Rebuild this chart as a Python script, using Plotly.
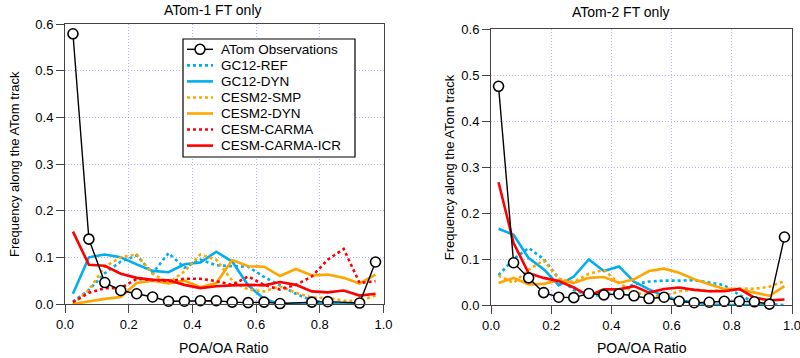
import plotly.graph_objects as go

# ---------------- data ----------------
ratio_bins = [0.025, 0.075, 0.125, 0.175, 0.225, 0.275, 0.325, 0.375, 0.425, 0.475,
              0.525, 0.575, 0.625, 0.675, 0.725, 0.775, 0.825, 0.875, 0.925, 0.975]

# ATom-1 FT only
a1_obs = [0.579, 0.139, 0.046, 0.029, 0.022, 0.015, 0.006, 0.006, 0.007, 0.007,
          0.004, 0.003, 0.004, 0.001, None, 0.004, 0.005, None, 0.002, 0.090]
a1_gc12_ref = [0.005, 0.030, 0.066, 0.091, 0.104, 0.066, 0.109, 0.078, 0.095, 0.083,
               0.081, 0.080, 0.058, 0.040, 0.022, 0.008, 0.002, 0.000, 0.000, None]
a1_gc12_dyn = [0.022, 0.100, 0.106, 0.100, 0.085, 0.071, 0.068, 0.085, 0.089, 0.112,
               0.091, 0.040, 0.011, 0.000, 0.000, 0.000, 0.000, 0.000, 0.000, None]
a1_cesm2_smp = [0.000, 0.030, 0.080, 0.100, 0.106, 0.065, 0.045, 0.070, 0.106, 0.095,
                0.050, 0.031, 0.027, 0.038, 0.024, 0.014, 0.013, 0.007, 0.007, 0.018]
a1_cesm2_dyn = [0.000, 0.006, 0.011, 0.015, 0.045, 0.050, 0.044, 0.050, 0.036, 0.045,
                0.094, 0.081, 0.080, 0.060, 0.075, 0.061, 0.063, 0.056, 0.044, 0.063]
a1_carma = [0.004, 0.024, 0.034, 0.034, 0.054, 0.052, 0.049, 0.054, 0.054, 0.049,
            0.041, 0.059, 0.041, 0.031, 0.041, 0.059, 0.095, 0.118, 0.045, 0.049]
a1_carma_icr = [0.155, 0.084, 0.082, 0.065, 0.056, 0.052, 0.051, 0.041, 0.034, 0.038,
                0.040, 0.041, 0.040, 0.047, 0.041, 0.027, 0.025, 0.029, 0.018, 0.022]

# ATom-2 FT only
a2_obs = [0.476, 0.092, 0.059, 0.027, 0.017, 0.016, 0.025, 0.022, 0.024, 0.020,
          0.014, 0.017, 0.008, 0.005, 0.006, 0.008, 0.008, 0.007, 0.002, 0.148]
a2_gc12_ref = [0.065, 0.100, 0.124, 0.100, 0.058, 0.033, 0.020, 0.022, 0.030, 0.045,
               0.051, 0.053, 0.053, 0.054, 0.049, 0.043, 0.022, 0.006, 0.002, 0.000]
a2_gc12_dyn = [0.166, 0.153, 0.102, 0.078, 0.043, 0.062, 0.099, 0.074, 0.084, 0.051,
               0.034, 0.019, 0.010, 0.005, 0.001, 0.000, 0.000, 0.000, 0.000, None]
a2_cesm2_smp = [0.064, 0.048, 0.077, 0.097, 0.057, 0.050, 0.068, 0.076, 0.048, 0.028,
                0.021, 0.019, 0.030, 0.034, 0.030, 0.034, 0.036, 0.035, 0.040, 0.052]
a2_cesm2_dyn = [0.048, 0.059, 0.045, 0.046, 0.054, 0.048, 0.059, 0.061, 0.048, 0.056,
                0.074, 0.079, 0.070, 0.056, 0.045, 0.035, 0.034, 0.027, 0.020, 0.041]
a2_carma_icr = [0.267, 0.135, 0.069, 0.059, 0.052, 0.038, 0.020, 0.034, 0.034, 0.041,
                0.027, 0.035, 0.038, 0.033, 0.030, 0.030, 0.035, 0.016, 0.010, 0.012]

x_ticks = [0.0, 0.2, 0.4, 0.6, 0.8, 1.0]
y_ticks = [0.0, 0.1, 0.2, 0.3, 0.4, 0.5, 0.6]
obs_name = "ATom Observations"
panel_titles = ["ATom-1 FT only", "ATom-2 FT only"]
x_title = "POA/OA Ratio"
y_title = "Frequency along the ATom track"

# ---------------- styling ----------------
BLUE = "#00AEEF"
ORANGE = "#FFA500"
RED = "#FF0000"
FONT = "Liberation Sans, Arial, sans-serif"
W, H = 800, 358

model_styles = [
    ("GC12-REF", BLUE, "dot"),
    ("GC12-DYN", BLUE, "solid"),
    ("CESM2-SMP", ORANGE, "dot"),
    ("CESM2-DYN", ORANGE, "solid"),
    ("CESM-CARMA", RED, "dot"),
    ("CESM-CARMA-ICR", RED, "solid"),
]

a1_models = [a1_gc12_ref, a1_gc12_dyn, a1_cesm2_smp, a1_cesm2_dyn, a1_carma, a1_carma_icr]
a2_models = [a2_gc12_ref, a2_gc12_dyn, a2_cesm2_smp, a2_cesm2_dyn, None, a2_carma_icr]

LINE_W = 2.6
fig = go.Figure()

for panel, (models, obs) in enumerate([(a1_models, a1_obs), (a2_models, a2_obs)]):
    xa = "x" if panel == 0 else "x2"
    ya = "y" if panel == 0 else "y2"
    for (name, color, dash), vals in zip(model_styles, models):
        if vals is None:
            continue
        fig.add_trace(go.Scatter(
            x=ratio_bins, y=vals, mode="lines", name=name,
            line=dict(color=color, width=LINE_W, dash=dash),
            xaxis=xa, yaxis=ya, showlegend=False,
        ))
    fig.add_trace(go.Scatter(
        x=ratio_bins, y=obs, mode="lines+markers", name=obs_name,
        line=dict(color="black", width=1.4),
        marker=dict(symbol="circle", size=10, color="white",
                    line=dict(color="black", width=1.6)),
        xaxis=xa, yaxis=ya, showlegend=False,
        connectgaps=True, cliponaxis=False,
    ))

axis_common = dict(
    showline=True, linecolor="#444", linewidth=1, mirror=True,
    ticks="outside", ticklen=8, tickwidth=1, tickcolor="#444",
    showgrid=True, gridcolor="#b8b8ff", griddash="1px,2px", gridwidth=1,
    zeroline=False, tickformat=".1f", automargin=False,
    ticklabeloverflow="allow",
    tickfont=dict(family=FONT, size=13, color="black"),
)

# panel pixel boxes: (left, right, top, bottom)
boxes = [(65, 383.5, 24, 304), (491, 792, 29.3, 305)]


def px(x):
    return x / W


def py(y):
    return 1 - y / H


layout_axes = {}
for i, (l, r, t, b) in enumerate(boxes):
    sx = "" if i == 0 else "2"
    layout_axes["xaxis" + sx] = dict(domain=[px(l), px(r)], range=[0, 1], tickvals=x_ticks,
                                     anchor="y" + sx, **axis_common)
    layout_axes["yaxis" + sx] = dict(domain=[py(b), py(t)], range=[0, 0.6], tickvals=y_ticks,
                                     anchor="x" + sx, **axis_common)

annotations = []
title_pos = [(213, 10), (621, 12)]
ytitle_off = [51, 42]
for (l, r, t, b), title, (tx, ty), yo in zip(boxes, panel_titles, title_pos, ytitle_off):
    annotations.append(dict(text=title, x=px(tx), y=py(ty), xref="paper", yref="paper",
                            showarrow=False, xanchor="center", yanchor="middle",
                            font=dict(family=FONT, size=14, color="black")))
    annotations.append(dict(text=x_title, x=px((l + r) / 2), y=py(348), xref="paper",
                            yref="paper", showarrow=False, xanchor="center", yanchor="middle",
                            font=dict(family=FONT, size=14, color="black")))
    annotations.append(dict(text=y_title, x=px(l - yo), y=py((t + b) / 2), xref="paper",
                            yref="paper", showarrow=False, xanchor="center", yanchor="middle",
                            textangle=-90, font=dict(family=FONT, size=13, color="black")))

# ---------------- legend (drawn in the left panel box) ----------------
shapes = []
LEG_L, LEG_R, LEG_T, LEG_B = 183, 355, 39, 157
shapes.append(dict(type="rect", xref="paper", yref="paper",
                   x0=px(LEG_L), x1=px(LEG_R), y0=py(LEG_B), y1=py(LEG_T),
                   line=dict(color="black", width=1.2), fillcolor="white", layer="above"))
legend_entries = [(obs_name, "black", "solid")] + model_styles
for k, (name, color, dash) in enumerate(legend_entries):
    yc = 49.3 + 16.05 * k
    shapes.append(dict(type="line", xref="paper", yref="paper",
                       x0=px(187), x1=px(213), y0=py(yc), y1=py(yc), layer="above",
                       line=dict(color=color, width=1.4 if k == 0 else LINE_W, dash=dash)))
    if k == 0:
        shapes.append(dict(type="circle", xref="paper", yref="paper",
                           x0=px(195), x1=px(205), y0=py(yc + 5), y1=py(yc - 5),
                           line=dict(color="black", width=1.6), fillcolor="white",
                           layer="above"))
    annotations.append(dict(text=name, x=px(219), y=py(yc), xref="paper", yref="paper",
                            showarrow=False, xanchor="left", yanchor="middle",
                            font=dict(family=FONT, size=13.5, color="black")))

fig.update_layout(
    width=W, height=H,
    margin=dict(l=0, r=0, t=0, b=0),
    paper_bgcolor="white", plot_bgcolor="white",
    font=dict(family=FONT, size=13, color="black"),
    showlegend=False,
    annotations=annotations,
    shapes=shapes,
    **layout_axes,
)

fig.write_html("out.html")
